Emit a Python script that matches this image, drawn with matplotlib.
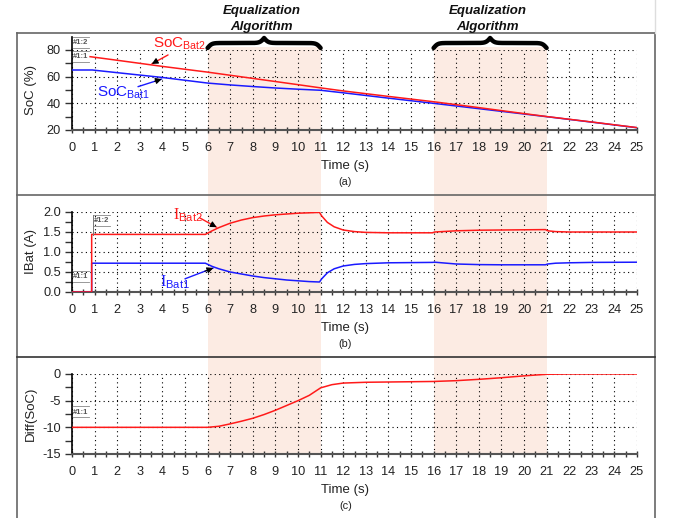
import numpy as np
import matplotlib
matplotlib.use('Agg')
import matplotlib.pyplot as plt
from matplotlib import transforms
from matplotlib.patches import Rectangle
from matplotlib.lines import Line2D
from matplotlib.ticker import MultipleLocator

plt.rcParams['font.family'] = ['Liberation Sans', 'DejaVu Sans']
plt.rcParams['mathtext.fontset'] = 'custom'
plt.rcParams['mathtext.rm'] = 'Liberation Sans'
plt.rcParams['mathtext.tt'] = 'Liberation Serif'
plt.rcParams['axes.unicode_minus'] = False

# ---------------- data
eq_windows = [(6, 11), (16, 21)]

# (a) state of charge
t_soc2 = [0.8, 2, 4, 6, 8, 10, 11, 12, 14, 16, 18, 20, 21, 23, 25]
soc_bat2 = [75, 72.3, 67.7, 63.4, 58.7, 54.0, 51.6, 49.3, 45.2, 41.2, 36.8, 32.3, 30.1, 26.0, 21.8]
t_soc1 = [0, 0.9, 2, 3, 4, 5, 6, 7, 8, 9, 10, 11, 12, 14, 16, 18, 20, 21, 23, 25]
soc_bat1 = [65, 65, 63, 61.2, 59.4, 57.3, 55.2, 53.8, 52.6, 51.5, 50.6, 49.8, 47.9, 43.9,
            40.0, 36.0, 32.0, 30.0, 25.9, 21.7]

# (b) battery currents
t_cur = [0, 0.87, 0.87, 5.9, 6.2, 6.5, 7, 7.5, 8, 8.5, 9, 9.5, 10, 10.5, 10.95, 11.05,
         11.3, 11.6, 12, 12.5, 13, 14, 15.95, 16.05, 17, 18, 19, 20, 20.95, 21.05,
         21.4, 22, 23, 25]
i_bat2 = [0, 0, 1.44, 1.44, 1.53, 1.61, 1.72, 1.80, 1.86, 1.90, 1.93, 1.95, 1.97, 1.98,
          1.99, 1.90, 1.74, 1.63, 1.55, 1.51, 1.49, 1.48, 1.48, 1.50, 1.53, 1.545, 1.55,
          1.555, 1.56, 1.53, 1.51, 1.50, 1.50, 1.50]
i_bat1 = [0, 0, 0.72, 0.72, 0.64, 0.58, 0.50, 0.45, 0.40, 0.36, 0.33, 0.30, 0.28, 0.26,
          0.25, 0.33, 0.48, 0.58, 0.65, 0.69, 0.71, 0.73, 0.74, 0.745, 0.70, 0.685, 0.68,
          0.68, 0.68, 0.70, 0.72, 0.73, 0.74, 0.745]

# (c) SoC difference
t_diff = [0, 6, 6.5, 7, 7.5, 8, 8.5, 9, 9.5, 10, 10.5, 11, 11.5, 12, 13, 14, 15, 16,
          17, 18, 19, 20, 21, 22, 25]
diff_soc = [-10, -10, -9.8, -9.35, -8.85, -8.3, -7.6, -6.8, -5.9, -5.0, -4.0, -2.6, -2.0,
            -1.7, -1.55, -1.5, -1.45, -1.4, -1.25, -1.0, -0.7, -0.35, -0.05, 0, 0]

RED = '#ff1a1a'
BLUE = '#1a1aff'
PINK = '#fcebe3'

W, H = 673, 518
fig = plt.figure(figsize=(6.73, 5.18), dpi=100)


def px_box(left, top, right, bottom):
    return [left / W, 1 - bottom / H, (right - left) / W, (bottom - top) / H]


def fy(py):
    # pixel row from top -> figure fraction
    return 1 - py / H


ax_a = fig.add_axes(px_box(72, 50, 637, 130))
ax_b = fig.add_axes(px_box(72, 212, 637, 292))
ax_c = fig.add_axes(px_box(72, 374, 637, 454))


def style(ax, ylim, ymajor, yminor, ylabel, xlab_x, tag, fmt=None):
    ax.set_facecolor('none')
    ax.set_xlim(0, 25)
    ax.set_ylim(*ylim)
    ax.xaxis.set_major_locator(MultipleLocator(1))
    ax.xaxis.set_minor_locator(MultipleLocator(0.5))
    ax.yaxis.set_major_locator(MultipleLocator(ymajor))
    ax.yaxis.set_minor_locator(MultipleLocator(yminor))
    if fmt:
        ax.yaxis.set_major_formatter(fmt)
    ax.spines['top'].set_visible(False)
    ax.spines['right'].set_visible(False)
    ax.spines['left'].set_color('black')
    ax.spines['left'].set_linewidth(1.2)
    ax.spines['bottom'].set_color('#555555')
    ax.spines['bottom'].set_linewidth(1.5)
    ax.tick_params(axis='x', which='major', direction='inout', length=5, width=1,
                   color='#333333', pad=6, labelsize=9.2, labelcolor='#222222')
    ax.tick_params(axis='x', which='minor', direction='inout', length=4, width=1,
                   color='#333333')
    ax.tick_params(axis='y', which='both', direction='out', length=5, width=1,
                   color='#333333', pad=3, labelsize=9.2, labelcolor='#222222')
    ax.grid(True, which='major', color='black', linestyle=(0, (1, 3)), linewidth=0.8)
    ax.set_ylabel(ylabel, fontsize=9.5, color='#222222')
    ax.yaxis.set_label_coords(-0.062, 0.5)
    tr = ax.get_xaxis_transform()
    ax.annotate('Time (s)', xy=(xlab_x, 0), xycoords=tr, xytext=(0, -26),
                textcoords='offset points', ha='center', va='center',
                fontsize=9.5, color='#222222')
    ax.annotate(tag, xy=(xlab_x, 0), xycoords=tr, xytext=(0, -37.5),
                textcoords='offset points', ha='center', va='center',
                fontsize=7.8, color='#222222')


style(ax_a, (20, 80), 20, 10, 'SoC (%)', 12.1, '(a)')
style(ax_b, (0, 2), 0.5, 0.25, 'IBat (A)', 12.1, '(b)', '{x:.1f}')
style(ax_c, (-15, 0), 5, 2.5, 'Diff(SoC)', 12.1, '(c)')

# curves
ax_a.plot(t_soc2, soc_bat2, color=RED, lw=1.1, zorder=4)
ax_a.plot(t_soc1, soc_bat1, color=BLUE, lw=1.1, zorder=3)
ax_b.plot(t_cur, i_bat1, color=BLUE, lw=1.1, zorder=3)
ax_b.plot(t_cur, i_bat2, color=RED, lw=1.1, zorder=4)
ax_c.plot(t_diff, diff_soc, color=RED, lw=1.1, zorder=3)


def label_arrow(ax, text, txy, tail, head, color, size):
    ax.text(txy[0], txy[1], text, color=color, fontsize=size, ha='left', va='center',
            clip_on=False, zorder=6)
    ax.annotate('', xy=head, xytext=tail,
                arrowprops=dict(arrowstyle='-', color=color, lw=1.0,
                                shrinkA=0, shrinkB=0), zorder=6)
    hx = head[0] - 0.3 * (head[0] - tail[0])
    hy = head[1] - 0.3 * (head[1] - tail[1])
    ax.annotate('', xy=head, xytext=(hx, hy),
                arrowprops=dict(arrowstyle='-|>', color='black', lw=0.8,
                                mutation_scale=9, shrinkA=0, shrinkB=0), zorder=7)


label_arrow(ax_a, r'SoC$_{\mathrm{Bat2}}$', (3.58, 84.8), (4.25, 76.3), (3.53, 69.6), RED, 11)
label_arrow(ax_a, r'SoC$_{\mathrm{Bat1}}$', (1.1, 47.8), (2.92, 52.5), (3.97, 58.2), BLUE, 11)
label_arrow(ax_b, r'$\mathtt{I}_{\mathrm{Bat2}}$', (4.47, 1.93), (5.66, 1.85), (6.4, 1.62), RED, 11.5)
label_arrow(ax_b, r'$\mathtt{I}_{\mathrm{Bat1}}$', (3.9, 0.25), (5.0, 0.33), (6.25, 0.6), BLUE, 11.5)

# left spine of (a) runs up past the top (cursor markers)
ax_a.add_line(Line2D([0, 0], [1, 1.16], transform=ax_a.transAxes, color='black',
                     lw=1.2, clip_on=False))


def cursor_tag(text, x_px, y_px, w_px=16):
    fig.text(x_px / W, fy(y_px), text, fontsize=5.5, fontweight='bold', color='#555555',
             ha='left', va='center')
    fig.add_artist(Line2D([x_px / W, (x_px + w_px) / W], [fy(y_px + 5), fy(y_px + 5)],
                          color='#888888', lw=0.6))
    fig.add_artist(Line2D([x_px / W, (x_px + w_px) / W], [fy(y_px - 6), fy(y_px - 6)],
                          color='#888888', lw=0.6))


cursor_tag('#1:2', 73, 43)
cursor_tag('#1:1', 73, 57)
cursor_tag('#1:2', 94, 221)
fig.add_artist(Line2D([93 / W, 93 / W], [fy(215), fy(235)], color='#777777', lw=0.7))
cursor_tag('#1:1', 73, 277)
cursor_tag('#1:1', 73, 412)

# shaded equalization windows spanning all three panels, with braces above
tr_span = transforms.blended_transform_factory(ax_c.transData, fig.transFigure)
for x0, x1 in eq_windows:
    fig.patches.append(Rectangle((x0, fy(454)), x1 - x0, fy(47) - fy(454),
                                 transform=tr_span, facecolor=PINK, edgecolor='none',
                                 zorder=-1, figure=fig))
    # curly brace
    res = 301
    xs = np.linspace(x0, x1, res)
    xh = xs[:res // 2 + 1]
    beta = 11.0
    yh = 1 / (1 + np.exp(-beta * (xh - xh[0]))) + 1 / (1 + np.exp(-beta * (xh - xh[-1])))
    yb = np.concatenate((yh, yh[-2::-1]))
    fig.add_artist(Line2D(xs, fy(53 - 10 * yb), transform=tr_span, color='black',
                          lw=3.2, solid_capstyle='round'))
    xc = (x0 + x1) / 2 - 0.12
    fig.text(xc, fy(11), 'Equalization', transform=tr_span, ha='center', va='center',
             fontsize=9.5, fontweight='bold', fontstyle='italic', color='#111111')
    fig.text(xc, fy(27), 'Algorithm', transform=tr_span, ha='center', va='center',
             fontsize=9.5, fontweight='bold', fontstyle='italic', color='#111111')

# outer frame of the three panels
frame = dict(color='#666666', lw=1.2)
fig.add_artist(Line2D([17 / W, 655 / W], [fy(33), fy(33)], **frame))
fig.add_artist(Line2D([17 / W, 17 / W], [fy(33), 0], **frame))
fig.add_artist(Line2D([655 / W, 655 / W], [fy(33), 0], **frame))
fig.add_artist(Line2D([655 / W, 655 / W], [1, fy(33)], color='#dddddd', lw=1.0))
fig.add_artist(Line2D([17 / W, 655 / W], [fy(195), fy(195)], **frame))
fig.add_artist(Line2D([17 / W, 655 / W], [fy(357), fy(357)], color='#333333', lw=1.2))

plt.savefig('out.png', dpi=100)
